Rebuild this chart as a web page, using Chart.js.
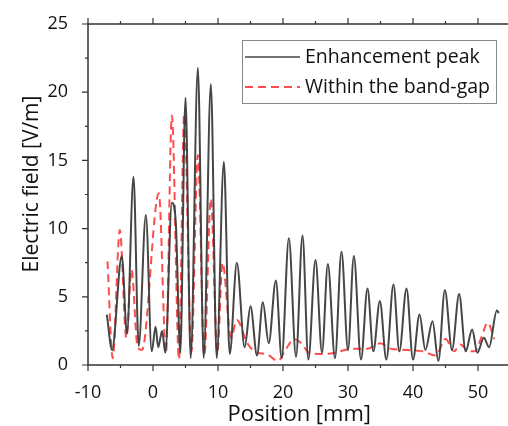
<!DOCTYPE html>
<html lang="en">
<head>
<meta charset="UTF-8">
<title>Electric field vs position</title>
<script src="https://cdn.jsdelivr.net/npm/chart.js"></script>
<style>
  html, body { margin: 0; padding: 0; overflow: hidden; background: #fff; }
</style>
</head>
<body>
<canvas id="fieldChart" width="512" height="426"></canvas>
<script>
// Values (peaks and dips of each curve)
// Position [mm] / Electric field [V/m]
const peakX = [-7.1, -6.3, -4.8, -4.0, -3.0, -2.2, -1.1, -0.2, 0.4, 0.8, 1.4, 1.9,
  2.9, 3.5, 4.2, 5.0, 5.8, 6.9, 7.8, 8.9, 9.8, 10.9, 11.8, 12.9, 14.1, 15.0, 16.0,
  16.9, 17.8, 18.9, 19.8, 20.9, 22.0, 23.0, 23.9, 25.0, 26.0, 26.9, 28.0, 29.0,
  30.0, 30.9, 32.0, 33.0, 33.9, 34.9, 35.9, 37.0, 37.9, 39.0, 40.0, 41.0, 41.9,
  43.0, 43.9, 44.9, 46.0, 47.1, 48.1, 49.1, 49.9, 50.9, 51.7, 52.9, 53.2];
const peakY = [3.7, 1.1, 8.0, 2.3, 13.8, 1.4, 11.0, 1.0, 2.8, 1.3, 2.5, 0.9,
  11.9, 10.5, 0.9, 19.6, 0.5, 21.8, 0.5, 20.6, 0.5, 14.9, 0.8, 7.5, 1.3, 4.3, 0.7,
  4.6, 1.6, 6.2, 0.5, 9.3, 0.6, 9.5, 0.4, 7.7, 0.9, 7.4, 0.5, 8.3,
  1.1, 8.0, 0.4, 5.6, 1.0, 4.7, 0.4, 5.9, 1.0, 5.6, 0.4, 3.7, 1.1,
  3.2, 0.3, 5.5, 1.1, 5.2, 1.0, 2.6, 0.9, 2.0, 1.3, 4.0, 3.8];

const gapX = [-7.0, -6.2, -5.1, -4.1, -3.3, -2.4, -1.7, 0.9, 2.0, 2.9, 4.0, 4.8,
  5.9, 6.9, 7.9, 8.9, 9.9, 10.7, 12.0, 12.9, 14.5, 16.0, 17.5, 19.2, 20.5, 21.7,
  22.8, 24.0, 26.0, 28.0, 29.5, 31.0, 33.0, 35.0, 36.5, 39.0, 41.5, 43.5, 45.0,
  46.3, 47.3, 48.3, 49.5, 50.5, 51.5, 52.5];
const gapY = [7.6, 0.5, 9.9, 2.0, 7.0, 1.4, 1.1, 12.6, 0.9, 18.3, 0.4, 18.4,
  0.9, 15.4, 0.7, 12.2, 0.9, 7.5, 2.0, 3.3, 1.6, 0.9, 0.8, 0.3, 1.2, 1.9,
  1.6, 0.9, 0.8, 0.9, 1.1, 1.2, 1.2, 1.6, 1.2, 1.1, 1.0, 0.7, 1.9,
  1.0, 1.5, 1.1, 1.0, 2.0, 3.1, 1.9];

const xTicks = [-10, 0, 10, 20, 30, 40, 50];
const yTicks = [0, 5, 10, 15, 20, 25];
const xMinor = [-5, 5, 15, 25, 35, 45];
const yMinor = [2.5, 7.5, 12.5, 17.5, 22.5];

const FONT = '"Open Sans", "Noto Sans", sans-serif';
const AXIS = '#333';

function pts(xs, ys) {
  return xs.map((x, i) => ({ x: x, y: ys[i] }));
}

// frame with ticks on all four sides, plus axis titles
const framePlugin = {
  id: 'frame',
  afterDatasetsDraw(chart) {
    const ctx = chart.ctx;
    const a = chart.chartArea;
    const xs = chart.scales.x, ys = chart.scales.y;
    ctx.save();
    ctx.strokeStyle = AXIS;
    ctx.lineWidth = 1.5;
    ctx.strokeRect(a.left, a.top, a.right - a.left, a.bottom - a.top);
    ctx.lineWidth = 1.2;
    ctx.beginPath();
    xTicks.forEach(v => {
      const p = xs.getPixelForValue(v);
      ctx.moveTo(p, a.bottom); ctx.lineTo(p, a.bottom + 6);
      ctx.moveTo(p, a.top); ctx.lineTo(p, a.top - 6);
    });
    xMinor.forEach(v => {
      const p = xs.getPixelForValue(v);
      ctx.moveTo(p, a.bottom); ctx.lineTo(p, a.bottom + 3);
      ctx.moveTo(p, a.top); ctx.lineTo(p, a.top - 3);
    });
    yTicks.forEach(v => {
      const p = ys.getPixelForValue(v);
      ctx.moveTo(a.left, p); ctx.lineTo(a.left - 6, p);
    });
    yMinor.forEach(v => {
      const p = ys.getPixelForValue(v);
      ctx.moveTo(a.left, p); ctx.lineTo(a.left - 3, p);
    });
    ctx.stroke();

    ctx.fillStyle = '#111';
    ctx.textAlign = 'center';
    ctx.textBaseline = 'alphabetic';
    ctx.font = '22px ' + FONT;
    ctx.fillText('Position [mm]', (a.left + a.right) / 2, 421);
    ctx.font = '21px ' + FONT;
    ctx.translate(38, 184);
    ctx.rotate(-Math.PI / 2);
    ctx.fillText('Electric field [V/m]', 0, 0);
    ctx.restore();
  }
};

// boxed legend in the upper right of the plot
const legendPlugin = {
  id: 'boxLegend',
  afterDraw(chart) {
    const ctx = chart.ctx;
    const box = { x: 242, y: 40, w: 254, h: 63 };
    ctx.save();
    ctx.fillStyle = '#fff';
    ctx.fillRect(box.x, box.y, box.w, box.h);
    ctx.strokeStyle = '#888';
    ctx.lineWidth = 1;
    ctx.strokeRect(box.x + 0.5, box.y + 0.5, box.w, box.h);
    ctx.font = '19.5px ' + FONT;
    ctx.textBaseline = 'middle';
    ctx.textAlign = 'left';
    chart.data.datasets.forEach((ds, i) => {
      const yy = box.y + 17 + i * 30;
      ctx.strokeStyle = ds.borderColor;
      ctx.lineWidth = i === 0 ? 1.5 : ds.borderWidth;
      ctx.setLineDash(ds.borderDash || []);
      ctx.beginPath();
      ctx.moveTo(box.x + 3, yy);
      ctx.lineTo(box.x + 58, yy);
      ctx.stroke();
      ctx.setLineDash([]);
      ctx.fillStyle = '#111';
      ctx.fillText(ds.label, box.x + 63, yy);
    });
    ctx.restore();
  }
};

new Chart(document.getElementById('fieldChart'), {
  type: 'line',
  data: {
    datasets: [
      {
        label: 'Enhancement peak',
        data: pts(peakX, peakY),
        borderColor: 'rgba(60,60,60,0.95)',
        borderWidth: 2,
        cubicInterpolationMode: 'monotone',
        pointRadius: 0
      },
      {
        label: 'Within the band-gap',
        data: pts(gapX, gapY),
        borderColor: 'rgba(255,45,45,0.85)',
        borderWidth: 2,
        borderDash: [8, 5],
        cubicInterpolationMode: 'monotone',
        pointRadius: 0
      }
    ]
  },
  options: {
    responsive: false,
    animation: false,
    layout: { padding: { top: 24, right: 1.5, left: 0, bottom: 0 } },
    plugins: { legend: { display: false }, tooltip: { enabled: false } },
    scales: {
      x: {
        type: 'linear',
        min: -10,
        max: 55,
        grid: { display: false },
        border: { display: false },
        afterBuildTicks: s => { s.ticks = xTicks.map(v => ({ value: v })); },
        afterFit: s => { s.height = 61; },
        ticks: { font: { size: 18, family: FONT }, color: '#111', padding: 9, maxRotation: 0 }
      },
      y: {
        min: 0,
        max: 25,
        grid: { display: false },
        border: { display: false },
        afterBuildTicks: s => { s.ticks = yTicks.map(v => ({ value: v })); },
        afterFit: s => { s.width = 88; },
        ticks: { font: { size: 18, family: FONT }, color: '#111', padding: 12 }
      }
    }
  },
  plugins: [framePlugin, legendPlugin]
});
</script>
</body>
</html>
